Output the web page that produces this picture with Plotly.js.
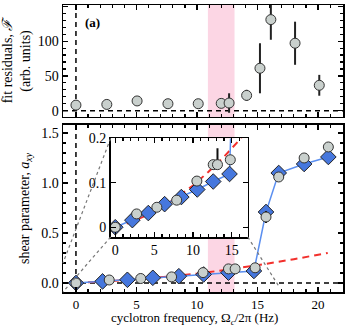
<!DOCTYPE html>
<html>
<head>
<meta charset="utf-8">
<script src="https://cdn.plot.ly/plotly-3.0.1.min.js"></script>
<style>
  html, body { margin: 0; padding: 0; background: #fff; }
  #chart { width: 351px; height: 326px; }
</style>
</head>
<body>
<div id="chart"></div>
<script>
// Top panel: fit residuals
const resFreq = [0, 2.55, 5.05, 7.6, 10.1, 12.0, 12.65, 14.1, 15.2, 16.1, 18.1, 20.1];
const resValue = [8, 9, 14, 10, 10, 10.5, 11, 22, 61, 131, 97, 36.5];
const resErr = [2, 2, 3, 2, 2, 3, 14, 8, 36, 29, 31, 15];

// Bottom panel: shear parameter, model (diamonds) and measured (circles)
const modelFreq = [0, 2.2, 4.25, 6.35, 8.5, 10.55, 12.6, 14.7, 15.7, 16.75, 18.85, 20.85];
const modelShear = [0, 0.016, 0.032, 0.052, 0.068, 0.085, 0.103, 0.12, 0.71, 1.10, 1.19, 1.26];

const measFreq = [0, 2.75, 5.35, 7.9, 10.5, 12.6, 13.15, 14.8, 15.7, 16.75, 18.85, 20.85];
const measShear = [0, 0.030, 0.045, 0.061, 0.104, 0.141, 0.141, 0.152, 0.66, 1.06, 1.25, 1.36];
const measErrUp = [0, 0.005, 0.004, 0.008, 0.006, 0.006, 0.037, 0.01, 0.06, 0.03, 0.04, 0.03];
const measErrDown = [0, 0.005, 0.004, 0.008, 0.006, 0.006, 0.008, 0.01, 0.06, 0.03, 0.04, 0.03];

// Red dashed reference curve
const curveFreq = [0, 2, 4, 6, 8, 10, 12, 14, 16, 18, 20, 20.8];
const curveShear = [0, 0.011, 0.027, 0.045, 0.068, 0.094, 0.125, 0.159, 0.197, 0.238, 0.283, 0.30];

// Shaded frequency band
const bandFreq = [10.9, 13.1];

const serif = '"Liberation Serif", "Times New Roman", serif';
const grayFill = '#c9d0cd';
const blueFill = '#4677dd';

function axisStyle(extra) {
    return Object.assign({
        showline: true, linecolor: '#000', linewidth: 1.5, mirror: 'allticks',
        ticks: 'inside', ticklen: 5, tickcolor: '#000', tickwidth: 1.2,
        showgrid: false, zeroline: false,
        tickfont: { family: serif, size: 14, color: '#000' }
    }, extra);
}

const circleMarker = { symbol: 'circle', size: 10, color: grayFill, line: { color: '#333', width: 1 } };
const diamondMarker = { symbol: 'diamond', size: 12, color: blueFill, line: { color: '#222', width: 1 } };

function bottomTraces(xa, ya) {
    return [
        {
            x: curveFreq, y: curveShear, xaxis: xa, yaxis: ya, mode: 'lines',
            line: { color: '#f2302c', width: 2, dash: '7px,5px' }, hoverinfo: 'skip'
        },
        {
            x: modelFreq, y: modelShear, xaxis: xa, yaxis: ya, mode: 'lines+markers',
            line: { color: '#5b8ff0', width: 1.5 }, marker: diamondMarker
        },
        {
            x: measFreq, y: measShear, xaxis: xa, yaxis: ya, mode: 'markers',
            marker: circleMarker,
            error_y: { type: 'data', array: measErrUp, arrayminus: measErrDown, color: '#111', thickness: 2, width: 0 }
        }
    ];
}

const data = [
    {
        x: resFreq, y: resValue, xaxis: 'x', yaxis: 'y', mode: 'markers',
        marker: circleMarker,
        error_y: { type: 'data', array: resErr, color: '#222', thickness: 2, width: 0 }
    }
].concat(bottomTraces('x2', 'y2'), bottomTraces('x3', 'y3'));

const dashed = { color: '#000', width: 1.5, dash: '5px,4px' };
const dotted = { color: '#777', width: 1.2, dash: 'dot' };

function band(xref, yref) {
    return { type: 'rect', xref: xref, yref: yref, x0: bandFreq[0], x1: bandFreq[1], y0: 0, y1: 1,
        fillcolor: '#fcd6e4', line: { width: 0 }, layer: 'below' };
}
function vzero(xref, yref) {
    return { type: 'line', xref: xref, yref: yref, x0: 0, x1: 0, y0: 0, y1: 1, line: dashed, layer: 'below' };
}
function hzero(xref, yref) {
    return { type: 'line', xref: xref, yref: yref, x0: 0, x1: 1, y0: 0, y1: 0, line: dashed, layer: 'below' };
}

const titleFont = { family: serif, size: 14, color: '#000' };

const layout = {
    width: 351, height: 326,
    margin: { l: 63, r: 8, t: 5, b: 34 },
    paper_bgcolor: '#fff', plot_bgcolor: '#fff',
    showlegend: false,
    font: { family: serif, size: 14, color: '#000' },
    xaxis: axisStyle({ domain: [0, 1], anchor: 'y', range: [-1.07, 22.06], dtick: 5, showticklabels: false,
        minor: { ticks: 'inside', ticklen: 3, dtick: 1, tickcolor: '#000' } }),
    yaxis: axisStyle({ domain: [0.61, 1], anchor: 'x', range: [-9, 152], dtick: 50,
        minor: { ticks: 'inside', ticklen: 3, dtick: 10, tickcolor: '#000' },
        title: { text: 'fit residuals, <i>ℱ</i><br>(arb. units)', font: titleFont, standoff: 4 } }),
    xaxis2: axisStyle({ domain: [0, 1], anchor: 'y2', range: [-1.07, 22.06], dtick: 5,
        tickfont: { family: serif, size: 13, color: '#000' },
        minor: { ticks: 'inside', ticklen: 3, dtick: 1, tickcolor: '#000' } }),
    yaxis2: axisStyle({ domain: [0, 0.582], anchor: 'x2', range: [-0.09, 1.58], dtick: 0.5, tickformat: '.1f',
        minor: { ticks: 'inside', ticklen: 3, dtick: 0.1, tickcolor: '#000' },
        title: { text: 'shear parameter, <i>a<sub>xy</sub></i>', font: titleFont, standoff: 8 } }),
    xaxis3: axisStyle({ domain: [0.170, 0.660], anchor: 'y3', range: [-0.6, 17.05], dtick: 5,
        minor: { ticks: 'inside', ticklen: 3, dtick: 1, tickcolor: '#000' } }),
    yaxis3: axisStyle({ domain: [0.1916, 0.535], anchor: 'x3', range: [-0.022, 0.2], dtick: 0.1 }),
    shapes: [
        band('x', 'y domain'), vzero('x', 'y domain'), hzero('x domain', 'y'),
        band('x2', 'y2 domain'), vzero('x2', 'y2 domain'), hzero('x2 domain', 'y2'),
        band('x3', 'y3 domain'), vzero('x3', 'y3 domain'), hzero('x3 domain', 'y3'),
        { type: 'line', xref: 'paper', yref: 'paper', x0: 0.170, y0: 0.535, x1: 0, y1: 0.101, line: dotted },
        { type: 'line', xref: 'paper', yref: 'paper', x0: 0.170, y0: 0.1916, x1: 0, y1: 0, line: dotted },
        { type: 'line', xref: 'paper', yref: 'paper', x0: 0.660, y0: 0.1916, x1: 0.7726, y1: 0.0174, line: dotted }
    ],
    annotations: [
        { text: '<b>(a)</b>', xref: 'paper', yref: 'paper', x: 0.072, y: 0.94, xanchor: 'left', yanchor: 'middle',
          showarrow: false, font: { family: serif, size: 13 } },
        { text: 'cyclotron frequency, Ω<sub><i>c</i></sub>/2π (Hz)', xref: 'paper', yref: 'paper',
          x: 0.47, y: 0, yshift: -17, xanchor: 'center', yanchor: 'top', borderpad: 0,
          showarrow: false, font: { family: serif, size: 13, color: '#000' } }
    ]
};

Plotly.newPlot('chart', data, layout, { staticPlot: true });
</script>
</body>
</html>
